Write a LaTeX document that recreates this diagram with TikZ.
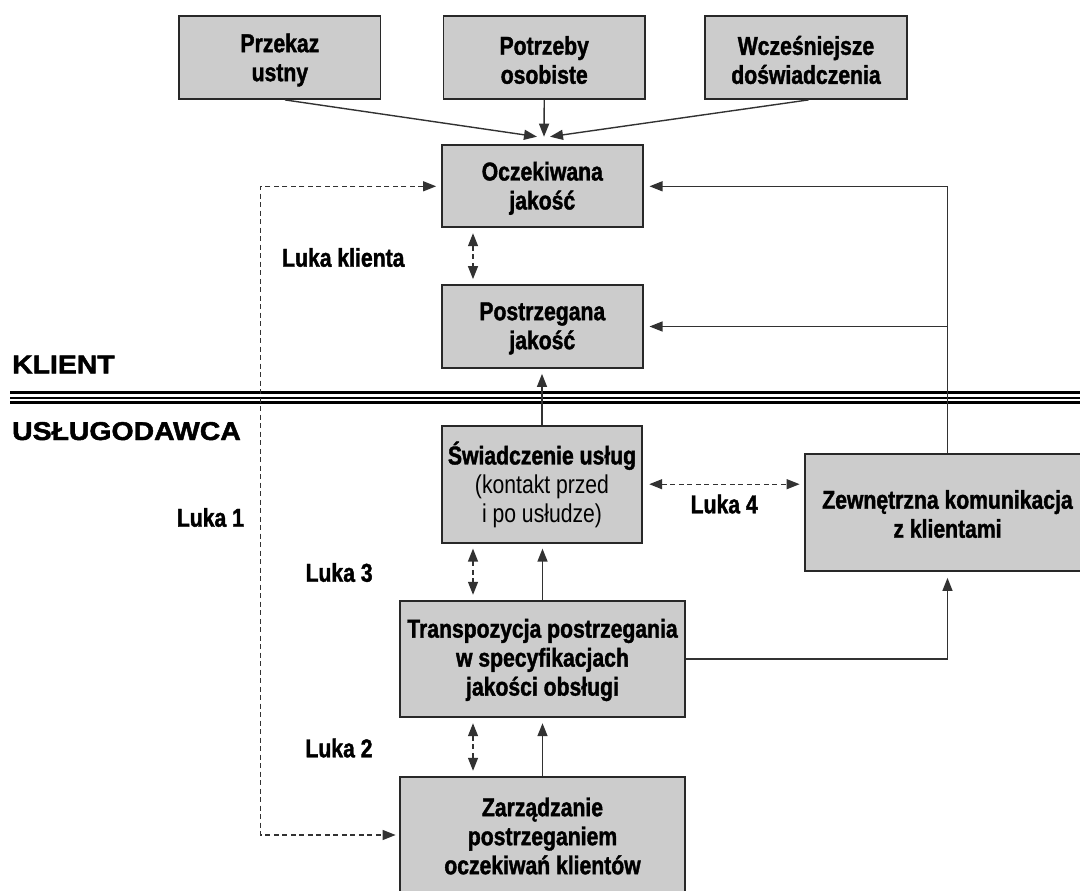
\documentclass[tikz,border=0pt]{standalone}
\usepackage{fontspec}
\setmainfont{Liberation Sans}[FakeStretch=0.82, BoldFeatures={FakeBold=1.5}]
\newfontfamily\hdfont{Liberation Sans}[FakeStretch=1.1, BoldFeatures={FakeBold=1.8}]
\usetikzlibrary{arrows.meta}
\definecolor{boxfill}{RGB}{204,204,204}
\definecolor{edge}{RGB}{40,40,40}
\definecolor{wire}{RGB}{50,50,50}

\begin{document}
\begin{tikzpicture}[x=1pt,y=-1pt,
  box/.style={draw=edge, line width=1.8pt, fill=boxfill, inner sep=0pt},
  txt/.style={inner sep=0pt, align=center, font=\fontsize{25.8}{29}\selectfont\bfseries},
  tip/.tip={Triangle[length=13pt,width=10pt]},
  arr/.style={draw=wire, line width=1.4pt, -tip, shorten >=5pt},
  gap/.style={draw=wire, line width=1.3pt, dash pattern=on 5pt off 3.5pt, tip-tip,
    shorten <=5pt, shorten >=5pt},
  lbl/.style={inner sep=0pt, anchor=base west, font=\fontsize{25.8}{29}\selectfont\bfseries},
  side/.style={inner sep=0pt, anchor=base west, font=\hdfont\bfseries\fontsize{25.8}{30}\selectfont}]

\useasboundingbox (0,0) rectangle (1080,891);
\clip (0,0) rectangle (1080,891);

% client / provider separator
\draw[line width=3.5pt] (10.3,392.5) -- (1080,392.5);
\draw[line width=2.5pt] (10.3,398) -- (1080,398);
\draw[line width=2.5pt] (10.3,402.3) -- (1080,402.3);

\node[side] (klient) at (12,373.3) {KLIENT};
\node[side] (uslugo) at (12,440) {USŁUGODAWCA};

% boxes
\node[box, minimum width=201.2pt, minimum height=83pt] (przekaz) at (279.9,57.5) {};
\node[box, minimum width=201.5pt, minimum height=83pt] (potrzeby) at (544.25,57.5) {};
\node[box, minimum width=201.4pt, minimum height=83pt] (wcz) at (806,57.5) {};
\node[box, minimum width=200.6pt, minimum height=82pt] (oczek) at (542.3,186.3) {};
\node[box, minimum width=200.6pt, minimum height=83pt] (postrz) at (542.3,326.5) {};
\node[box, minimum width=200.6pt, minimum height=117pt] (swiad) at (542,484.2) {};
\node[box, minimum width=285pt, minimum height=117pt] (zewn) at (947.5,512.5) {};
\node[box, minimum width=285pt, minimum height=116.6pt] (transp) at (542.5,659) {};
\node[box, minimum width=285pt, minimum height=116.6pt] (zarz) at (542.5,835) {};

% box texts
\node[txt] (przekaz-t) at ([yshift=-2.5pt]przekaz.center) {Przekaz\\ustny};
\node[txt] (potrzeby-t) at ([yshift=-2.5pt]potrzeby.center) {Potrzeby\\osobiste};
\node[txt] (wcz-t) at ([yshift=-2.5pt]wcz.center) {Wcześniejsze\\doświadczenia};
\node[txt] (oczek-t) at ([yshift=-2pt]oczek.center) {Oczekiwana\\jakość};
\node[txt] (postrz-t) at ([yshift=-2pt]postrz.center) {Postrzegana\\jakość};
\node[txt] (swiad-t) at ([yshift=-0.5pt]swiad.center)
  {Świadczenie usług\\{\mdseries (kontakt przed}\\{\mdseries i po usłudze)}};
\node[txt] (zewn-t) at ([yshift=-1.5pt]zewn.center) {Zewnętrzna komunikacja\\z klientami};
\node[txt] (transp-t) at ([yshift=-1pt]transp.center)
  {Transpozycja postrzegania\\w specyfikacjach\\jakości obsługi};
\node[txt] (zarz-t) at ([yshift=-1pt]zarz.center)
  {Zarządzanie\\postrzeganiem\\oczekiwań klientów};

% gap labels
\node[lbl] (lk) at (282,266.7) {Luka klienta};
\node[lbl] (l1) at (176.7,526.7) {Luka 1};
\node[lbl] (l3) at (305.4,581.7) {Luka 3};
\node[lbl] (l2) at (305.3,757.3) {Luka 2};
\node[lbl] (l4) at (690.5,513.3) {Luka 4};

% sources of expectations
\coordinate (conv) at (544,136.7);
\draw[arr, shorten >=0pt] ([xshift=5pt]przekaz.south) -- ([xshift=-7pt]conv);
\draw[arr, shorten >=0pt] (potrzeby.south) -- (conv);
\draw[arr, shorten >=0pt] ([xshift=2.5pt]wcz.south) -- ([xshift=6pt]conv);

% upward flow
\draw[arr] (swiad.north) -- (swiad.north |- postrz.south);
\draw[arr] (transp.north) -- (transp.north |- swiad.south);
\draw[arr] (zarz.north) -- (zarz.north |- transp.south);

% external communication
\coordinate (jn) at (zewn.north |- postrz.east);
\draw[arr, shorten >=6pt] (zewn.north) |- (oczek.east);
\draw[arr, shorten >=6pt] (jn) -- (postrz.east);
\draw[arr, shorten >=6pt] (transp.east) -| (zewn.south);

% gaps
\draw[gap] ([xshift=-69.3pt]oczek.south) -- ([xshift=-69.3pt]postrz.north);
\draw[gap] ([xshift=-69pt]swiad.south) -- ([xshift=-69.5pt]transp.north);
\draw[gap] ([xshift=-69.5pt]transp.south) -- ([xshift=-69.5pt]zarz.north);
\draw[gap, shorten <=6pt, shorten >=4.5pt] (swiad.east) -- (swiad.east -| zewn.west);
\coordinate (l1a) at (260.7,186.3);
\coordinate (l1b) at (260.7,835);
\draw[gap, shorten >=3.5pt] (oczek.west) -- (l1a) -- (l1b) -- (zarz.west);
\end{tikzpicture}
\end{document}
